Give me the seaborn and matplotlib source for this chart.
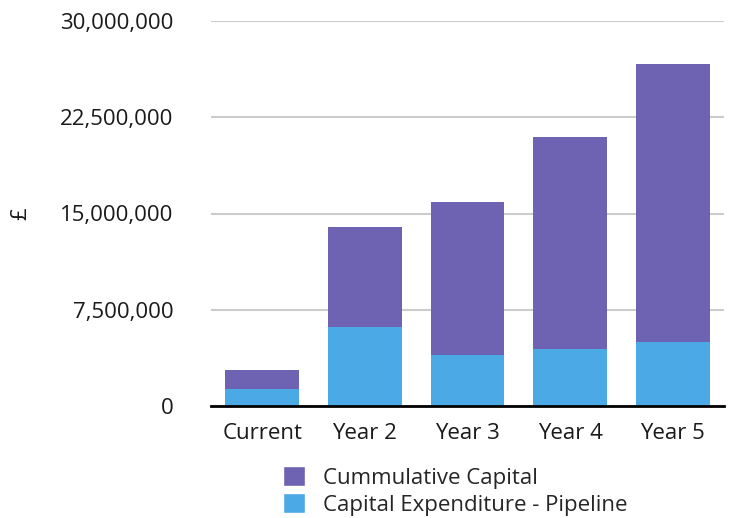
import matplotlib
matplotlib.use("Agg")
import matplotlib.pyplot as plt
import matplotlib.ticker as mticker
from matplotlib.patches import Patch
import seaborn as sns
import pandas as pd
import numpy as np

categories = ["Current", "Year 2", "Year 3", "Year 4", "Year 5"]
pipeline = [1_330_000, 6_170_000, 3_980_000, 4_450_000, 5_000_000]
cumulative = [1_480_000, 7_810_000, 11_880_000, 16_550_000, 21_640_000]
y_ticks = [0, 7_500_000, 15_000_000, 22_500_000, 30_000_000]

purple = "#6E63B2"
blue = "#4BA9E6"

sns.set_theme(style="white")
plt.rcParams["font.family"] = ["Open Sans", "DejaVu Sans"]

df = pd.DataFrame({
    "cat": categories,
    "pipe": pipeline,
    "total": np.array(pipeline) + np.array(cumulative),
})

fig = plt.figure(figsize=(7.31, 5.18), dpi=100)
ax = fig.add_axes([211/731, 1 - 406/518, (724 - 211)/731, (406 - 21)/518])

sns.barplot(data=df, x="cat", y="total", color=purple, saturation=1, width=0.72,
            linewidth=0, edgecolor="none", ax=ax, zorder=2)
sns.barplot(data=df, x="cat", y="pipe", color=blue, saturation=1, width=0.72,
            linewidth=0, edgecolor="none", ax=ax, zorder=3)

ax.set_ylim(0, 30_000_000)
ax.set_xlim(-0.5, 4.5)
ax.set_yticks(y_ticks)
ax.yaxis.set_major_formatter(mticker.FuncFormatter(lambda v, p: f"{int(v):,}"))
ax.grid(axis="y", color="#cccccc", linewidth=1.5, zorder=0)
ax.set_axisbelow(True)
for s in ["top", "right", "left"]:
    ax.spines[s].set_visible(False)
ax.spines["bottom"].set_color("black")
ax.spines["bottom"].set_linewidth(2)
ax.spines["bottom"].set_zorder(5)
ax.tick_params(axis="y", length=0, pad=27, labelsize=16, labelcolor="#1a1a1a")
ax.tick_params(axis="x", length=0, pad=12, labelsize=16, labelcolor="#1a1a1a")
ax.set_xlabel("")
ax.set_ylabel("£", fontsize=16, color="#1a1a1a")
ax.yaxis.set_label_coords(-0.35, 0.5)

handles = [Patch(facecolor=purple, label="Cummulative Capital"),
           Patch(facecolor=blue, label="Capital Expenditure - Pipeline")]
fig.legend(handles=handles, loc="upper left", bbox_to_anchor=(283/731, 1 - 466/518),
           frameon=False, borderpad=0, borderaxespad=0, fontsize=16,
           handlelength=1.0, handleheight=1.0, handletextpad=0.8, labelspacing=0.2)

fig.savefig("out.png", dpi=100)
